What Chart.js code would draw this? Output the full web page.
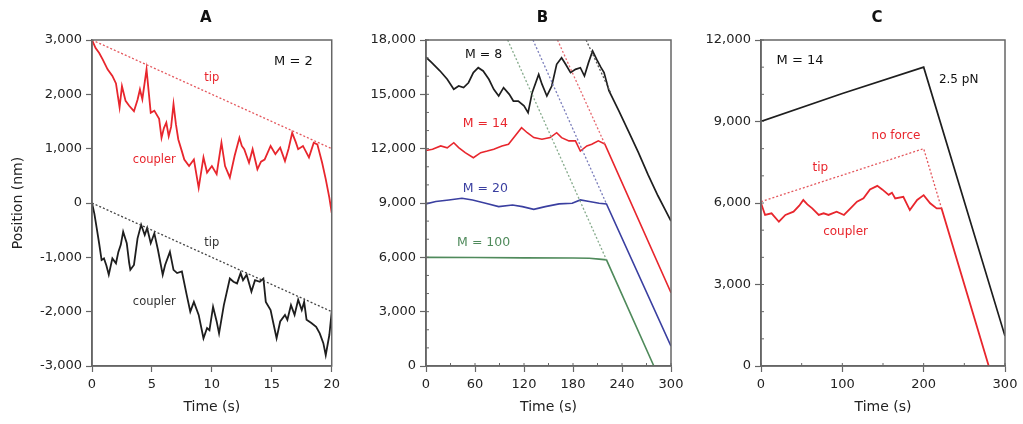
<!DOCTYPE html>
<html>
<head>
<meta charset="utf-8">
<script src="https://cdn.jsdelivr.net/npm/chart.js"></script>
<style>
  html, body { margin: 0; padding: 0; background: #fff; }
  #wrap { position: relative; width: 1023px; height: 424px; overflow: hidden; }
  canvas { position: absolute; top: 0; }
</style>
</head>
<body>
<div id="wrap">
  <canvas id="chartA" width="345" height="424" style="left:0px"></canvas>
  <canvas id="chartB" width="345" height="424" style="left:345px"></canvas>
  <canvas id="chartC" width="333" height="424" style="left:690px"></canvas>
</div>
<script>
// ---- Panel A : M = 2 ----
const aTipTime = [0, 20];
const aRedTipPos = [3000, 1000];
const aBlackTipPos = [0, -2000];
const aRedTime = [0, 0.3, 0.6, 0.9, 1.3, 1.7, 2.0, 2.3, 2.5, 2.8, 3.1, 3.5, 3.8, 4.0, 4.2, 4.55, 4.9, 5.2, 5.6, 5.8,
  6.0, 6.2, 6.4, 6.6, 6.8, 7.0, 7.2, 7.5, 7.7, 8.1, 8.5, 8.9, 9.3, 9.6, 10.0, 10.4, 10.8, 11.1, 11.5, 11.9,
  12.3, 12.5, 12.7, 13.1, 13.4, 13.8, 14.1, 14.4, 14.9, 15.3, 15.7, 16.1, 16.4, 16.7, 17.0, 17.2, 17.6, 18.1,
  18.5, 18.8, 19.2, 19.5, 19.8, 20.0];
const aRedPos = [3000, 2850, 2760, 2640, 2460, 2340, 2200, 1760, 2150, 1880, 1790, 1690, 1900, 2090, 1910, 2460, 1660, 1700, 1550, 1200,
  1380, 1480, 1230, 1400, 1820, 1450, 1170, 950, 800, 680, 800, 280, 840, 560, 680, 530, 1110, 680, 470, 870,
  1200, 1050, 990, 740, 990, 620, 760, 800, 1050, 900, 1020, 770, 1000, 1290, 1120, 990, 1050, 840,
  1110, 1080, 740, 440, 100, -180];
const aBlackTime = [0, 0.2, 0.4, 0.6, 0.8, 1.0, 1.2, 1.4, 1.7, 2.0, 2.2, 2.4, 2.6, 2.9, 3.1, 3.2, 3.5, 3.8, 4.1, 4.4,
  4.6, 4.9, 5.2, 5.5, 5.9, 6.1, 6.5, 6.8, 7.1, 7.5, 7.9, 8.2, 8.5, 8.9, 9.3, 9.6, 9.8, 10.1, 10.4, 10.6,
  11.0, 11.5, 11.8, 12.1, 12.4, 12.6, 12.9, 13.3, 13.6, 14.0, 14.3, 14.5, 14.9, 15.1, 15.4, 15.7, 16.1, 16.3,
  16.6, 16.9, 17.2, 17.5, 17.7, 17.9, 18.3, 18.7, 19.0, 19.3, 19.5, 19.8, 20.0];
const aBlackPos = [0, -200, -470, -750, -1050, -1020, -1150, -1320, -1020, -1110, -900, -770, -530, -740, -1100, -1230, -1140, -650, -400, -590,
  -460, -740, -560, -860, -1320, -1140, -900, -1230, -1290, -1260, -1690, -2000, -1820, -2060, -2490, -2300, -2340, -1910, -2180, -2400,
  -1880, -1390, -1450, -1480, -1290, -1420, -1320, -1630, -1420, -1450, -1390, -1820, -1970, -2180, -2490, -2180, -2060, -2150,
  -1880, -2060, -1780, -1970, -1820, -2150, -2210, -2280, -2400, -2580, -2800, -2430, -2000];
const aXTicks = [0, 5, 10, 15, 20];
const aYTicks = [-3000, -2000, -1000, 0, 1000, 2000, 3000];

// ---- Panel B : several M ----
const b8Time = [0, 7, 17, 26, 34, 40, 46, 52, 58, 64, 70, 77, 83, 89, 95, 102, 107, 113, 120, 125,
  130, 138, 142, 148, 154, 160, 166, 171, 177, 183, 189, 194, 199, 204, 209, 214, 218, 224, 236, 248,
  260, 272, 284, 292, 300];
const b8Pos = [17050, 16750, 16300, 15830, 15280, 15460, 15370, 15640, 16200, 16470, 16290, 15830, 15280, 14910, 15370, 15000, 14630, 14630, 14360, 13990,
  15090, 16100, 15560, 14910, 15460, 16660, 17020, 16660, 16200, 16380, 16470, 16010, 16750, 17390, 16930, 16500, 16200, 15200, 14100, 12950,
  11800, 10550, 9400, 8700, 8000];
const b14Time = [0, 8, 18, 26, 34, 40, 48, 58, 67, 75, 83, 93, 101, 109, 117, 124, 132, 142, 152, 160,
  166, 175, 183, 189, 197, 203, 211, 219, 300];
const b14Pos = [11900, 11970, 12150, 12050, 12330, 12060, 11780, 11500, 11780, 11870, 11970, 12150, 12240, 12700, 13160, 12880, 12610, 12520, 12610, 12880,
  12610, 12430, 12430, 11870, 12150, 12240, 12430, 12250, 4050];
const b20Time = [0, 12, 28, 44, 57, 73, 89, 106, 118, 132, 146, 163, 179, 189, 200, 212, 221, 300];
const b20Pos = [8950, 9080, 9170, 9260, 9170, 8990, 8800, 8890, 8800, 8650, 8800, 8950, 8990, 9170, 9080, 8990, 8950, 1100];
const b100Time = [0, 60, 120, 180, 200, 212, 221, 279];
const b100Pos = [6000, 5990, 5970, 5960, 5950, 5900, 5860, 0];
const bTip8Time = [196, 226], bTip8Pos = [18000, 15100];
const bTip14Time = [161, 219], bTip14Pos = [18000, 12250];
const bTip20Time = [131, 221], bTip20Pos = [18000, 8950];
const bTip100Time = [100, 221], bTip100Pos = [18000, 5860];
const bXTicks = [0, 60, 120, 180, 240, 300];
const bYTicks = [0, 3000, 6000, 9000, 12000, 15000, 18000];

// ---- Panel C : M = 14 ----
const cForceTime = [0, 100, 200, 300];
const cForcePos = [9000, 10030, 11000, 1100];
const cTipTime = [0, 200, 222];
const cTipPos = [6050, 8000, 5800];
const cCoupTime = [0, 5, 13, 22, 30, 40, 47, 52, 57, 63, 71, 77, 83, 93, 102, 110, 118, 126, 134, 143,
  149, 157, 161, 165, 175, 183, 192, 200, 208, 216, 222, 280];
const cCoupPos = [6000, 5560, 5620, 5310, 5560, 5680, 5900, 6110, 5950, 5800, 5560, 5620, 5560, 5680, 5560, 5800, 6050, 6170, 6500, 6630,
  6500, 6300, 6380, 6170, 6230, 5740, 6110, 6290, 5990, 5800, 5800, 0];
const cXTicks = [0, 100, 200, 300];
const cYTicks = [0, 3000, 6000, 9000, 12000];

const FONT = "'DejaVu Sans', sans-serif";
const AXIS = '#666';
const RED = '#e8262d';
const BLACK = '#1e1e1e';
const BLUE = '#3a3fa0';
const GREEN = '#4f8a5b';

function pts(xs, ys) {
  return xs.map((x, i) => ({ x: x, y: ys[i] }));
}

function line(xs, ys, color, width, dash) {
  return {
    data: pts(xs, ys),
    borderColor: color,
    borderWidth: width,
    borderDash: dash || [],
    pointRadius: 0,
    tension: 0,
    fill: false
  };
}

function fmt(v) {
  return Number(v).toLocaleString('en-US');
}

function xAxis(ticks) {
  return {
    type: 'linear',
    min: ticks[0],
    max: ticks[ticks.length - 1],
    afterBuildTicks: s => { s.ticks = ticks.map(v => ({ value: v })); },
    afterFit: s => { s.height = 58; },
    ticks: { color: '#222', font: { family: FONT, size: 13 }, padding: 5, maxRotation: 0, autoSkip: false },
    grid: { drawOnChartArea: false, drawTicks: true, tickLength: 6, tickColor: AXIS, tickWidth: 1.2 },
    border: { display: true, color: AXIS, width: 1.5 },
    title: { display: true, text: 'Time (s)', color: '#222', font: { family: FONT, size: 14 }, padding: { top: 0, bottom: 8 } }
  };
}

function yAxis(ticks, width, title) {
  const ax = {
    type: 'linear',
    min: ticks[0],
    max: ticks[ticks.length - 1],
    afterBuildTicks: s => { s.ticks = ticks.map(v => ({ value: v })); },
    afterFit: s => { s.width = width; },
    ticks: { color: '#222', font: { family: FONT, size: 13 }, padding: 4, autoSkip: false, callback: v => fmt(v) },
    grid: { drawOnChartArea: false, drawTicks: true, tickLength: 6, tickColor: AXIS, tickWidth: 1.2 },
    border: { display: true, color: AXIS, width: 1.5 }
  };
  if (title) {
    ax.title = { display: true, text: title, color: '#222', font: { family: FONT, size: 14 }, padding: { top: 10, bottom: 0 } };
  }
  return ax;
}

// frame, minor ticks, panel letter and text labels
function panelPlugin(letter, notes, minorX, minorY) {
  return {
    id: 'panel' + letter,
    afterDraw(chart) {
      const ctx = chart.ctx;
      const a = chart.chartArea;
      const xs = chart.scales.x, ys = chart.scales.y;
      ctx.save();
      ctx.strokeStyle = AXIS;
      ctx.lineWidth = 1.5;
      ctx.strokeRect(a.left, a.top, a.right - a.left, a.bottom - a.top);
      ctx.lineWidth = 1;
      if (minorX) {
        for (let v = xs.min; v <= xs.max; v += minorX) {
          const px = xs.getPixelForValue(v);
          ctx.beginPath(); ctx.moveTo(px, a.bottom); ctx.lineTo(px, a.bottom - 3); ctx.stroke();
        }
      }
      if (minorY) {
        for (let v = ys.min; v <= ys.max; v += minorY) {
          const py = ys.getPixelForValue(v);
          ctx.beginPath(); ctx.moveTo(a.left, py); ctx.lineTo(a.left + 3, py); ctx.stroke();
        }
      }
      ctx.fillStyle = '#111';
      ctx.font = 'bold 15px ' + FONT;
      ctx.textAlign = 'center';
      ctx.textBaseline = 'middle';
      ctx.fillText(letter, (a.left + a.right) / 2 - 6, 18);
      notes.forEach(n => {
        ctx.fillStyle = n.color;
        ctx.font = n.size + 'px ' + FONT;
        ctx.fillText(n.text, xs.getPixelForValue(n.x), ys.getPixelForValue(n.y));
      });
      ctx.restore();
    }
  };
}

function makeChart(id, datasets, xTicks, yTicks, yWidth, yTitle, rightPad, plugin) {
  return new Chart(document.getElementById(id), {
    type: 'line',
    data: { datasets: datasets },
    options: {
      responsive: false,
      animation: false,
      devicePixelRatio: 1,
      layout: { padding: { top: 40, right: rightPad, bottom: 0, left: 0 } },
      plugins: { legend: { display: false }, tooltip: { enabled: false }, title: { display: false } },
      scales: { x: xAxis(xTicks), y: yAxis(yTicks, yWidth, yTitle) }
    },
    plugins: [plugin]
  });
}

makeChart('chartA', [
  line(aTipTime, aRedTipPos, '#e4575d', 1.3, [2, 2]),
  line(aTipTime, aBlackTipPos, '#444', 1.3, [2, 2]),
  line(aRedTime, aRedPos, RED, 1.8),
  line(aBlackTime, aBlackPos, BLACK, 1.8)
], aXTicks, aYTicks, 92, 'Position (nm)', 9, panelPlugin('A', [
  { text: 'M = 2', x: 16.8, y: 2600, color: '#111', size: 13 },
  { text: 'tip', x: 10, y: 2300, color: RED, size: 11.5 },
  { text: 'coupler', x: 5.2, y: 800, color: RED, size: 11.5 },
  { text: 'tip', x: 10, y: -740, color: '#333', size: 11.5 },
  { text: 'coupler', x: 5.2, y: -1815, color: '#333', size: 11.5 }
]));

makeChart('chartB', [
  line(bTip100Time, bTip100Pos, '#86ab8c', 1.3, [2, 2]),
  line(bTip20Time, bTip20Pos, '#7a7dbb', 1.3, [2, 2]),
  line(bTip14Time, bTip14Pos, '#e76a70', 1.3, [2, 2]),
  line(bTip8Time, bTip8Pos, '#555', 1.3, [2, 2]),
  line(b100Time, b100Pos, GREEN, 1.6),
  line(b20Time, b20Pos, BLUE, 1.6),
  line(b14Time, b14Pos, RED, 1.6),
  line(b8Time, b8Pos, BLACK, 1.7)
], bXTicks, bYTicks, 81, null, 19, panelPlugin('B', [
  { text: 'M = 8', x: 70.6, y: 17200, color: '#111', size: 12.5 },
  { text: 'M = 14', x: 72.6, y: 13350, color: RED, size: 12.5 },
  { text: 'M = 20', x: 72.6, y: 9760, color: BLUE, size: 12.5 },
  { text: 'M = 100', x: 70.6, y: 6780, color: GREEN, size: 12.5 }
], 30, 1000));

makeChart('chartC', [
  line(cTipTime, cTipPos, '#e4575d', 1.3, [2, 2]),
  line(cForceTime, cForcePos, BLACK, 1.7),
  line(cCoupTime, cCoupPos, RED, 1.8)
], cXTicks, cYTicks, 71, null, 18, panelPlugin('C', [
  { text: 'M = 14', x: 48, y: 11230, color: '#111', size: 13 },
  { text: '2.5 pN', x: 243, y: 10550, color: '#111', size: 12 },
  { text: 'no force', x: 166, y: 8470, color: RED, size: 12 },
  { text: 'tip', x: 73, y: 7300, color: RED, size: 12 },
  { text: 'coupler', x: 104, y: 4940, color: RED, size: 12 }
], 50, 1000));
</script>
</body>
</html>
